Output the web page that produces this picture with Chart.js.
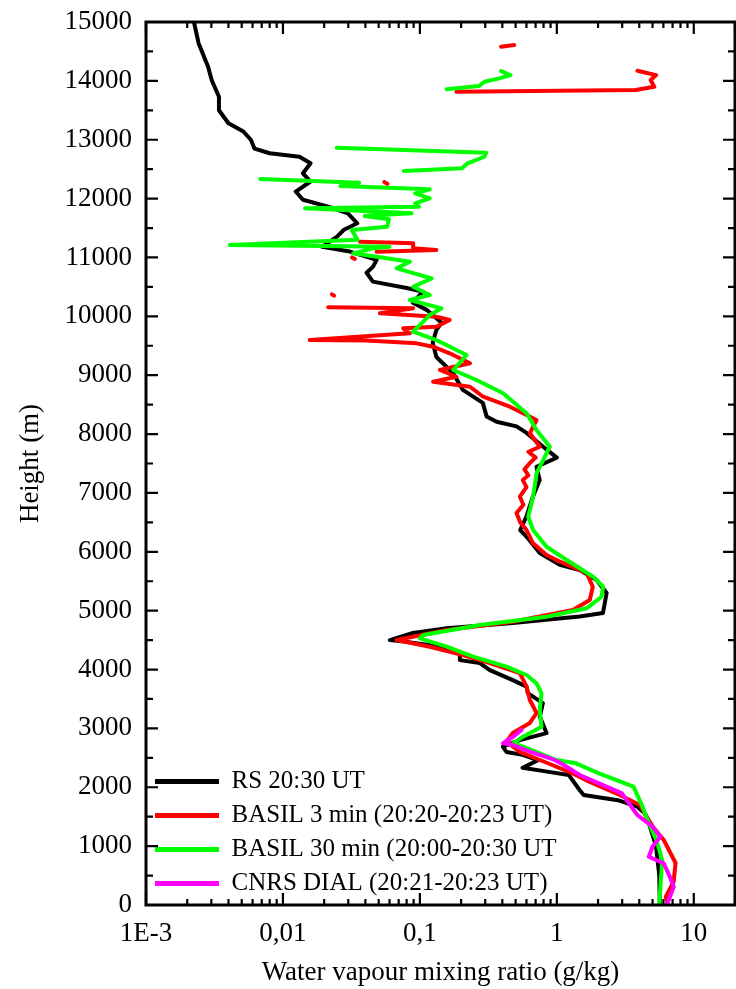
<!DOCTYPE html>
<html>
<head>
<meta charset="utf-8">
<script src="https://cdn.jsdelivr.net/npm/chart.js@4.4.1/dist/chart.umd.min.js"></script>
<style>
  html, body { margin: 0; padding: 0; background: #fff; }
  canvas { display: block; }
</style>
</head>
<body>
<canvas id="profileChart" width="736" height="989"></canvas>
<script>
// Water vapour profiles (height in m, mixing ratio in g/kg), null = gap

const rsHeight = [15000, 14640, 14240, 14010, 13730, 13500, 13280, 13140, 13000, 12850, 12770, 12710, 12600, 12430, 12290, 12120, 11980, 11860, 11750, 11580, 11470, 11350, 11180, 11100, 10960, 10840, 10740, 10590, 10480, 10420, 10230, 10110, 9890, 9770, 9550, 9310, 9040, 8750, 8530, 8300, 8210, 8130, 8020, 7790, 7600, 7445, 7220, 6940, 6600, 6370, 6260, 5980, 5780, 5690, 5520, 5300, 4960, 4900, 4790, 4700, 4620, 4500, 4470, 4390, 4280, 4160, 4110, 3990, 3820, 3710, 3600, 3430, 3200, 2920, 2800, 2690, 2600, 2550, 2460, 2330, 2270, 2210, 1950, 1870, 1780, 1670, 1560, 1390, 1000, 500, 0];
const rsValue = [0.00224, 0.00242, 0.00284, 0.00302, 0.00341, 0.00341, 0.0040, 0.00514, 0.00583, 0.0062, 0.0080, 0.0132, 0.0159, 0.0140, 0.0159, 0.0124, 0.0140, 0.0217, 0.0298, 0.0349, 0.0279, 0.0247, 0.0193, 0.0308, 0.0483, 0.0454, 0.0408, 0.0454, 0.080, 0.105, 0.0889, 0.112, 0.144, 0.132, 0.124, 0.132, 0.174, 0.206, 0.288, 0.307, 0.363, 0.508, 0.601, 0.79, 1.0, 0.71, 0.75, 0.67, 0.60, 0.54, 0.60, 0.75, 1.05, 1.47, 1.95, 2.31, 2.17, 1.47, 0.477, 0.157, 0.0889, 0.0604, 0.080, 0.140, 0.196, 0.196, 0.274, 0.324, 0.477, 0.601, 0.614, 0.791, 0.751, 0.841, 0.537, 0.403, 0.429, 0.562, 0.727, 0.562, 0.827, 1.22, 1.47, 1.57, 2.79, 3.87, 4.39, 4.7, 5.3, 5.6, 5.65];

const basil3Height = [14608, 14580, null, 14171, 14098, 14013, 13900, 13844, 13815, null, 12280, 12250, null, 11267, 11240, 11155, 11126, 11098, null, 11000, 10975, null, 10375, 10350, null, 10153, 10136, 10051, 9994, 9937, 9824, 9796, 9711, 9597, 9590, 9541, 9484, 9372, 9202, 9088, 8974, 8889, 8804, 8634, 8465, 8323, 8239, 8013, 7785, 7700, 7600, 7508, 7400, 7300, 7219, 7100, 6936, 6800, 6659, 6500, 6370, 6149, 5945, 5860, 5640, 5407, 5181, 5011, 4812, 4671, 4501, 4388, 4247, 4111, 3941, 3708, 3482, 3261, 3092, 2922, 2774, 2600, 2429, 2259, 2089, 1869, 1699, 1330, 1104, 713, 396, 141, 0];
const basil3Value = [0.488, 0.392, null, 3.88, 5.31, 4.84, 5.15, 3.76, 0.185, null, 0.055, 0.058, null, 0.0365, 0.0893, 0.0893, 0.132, 0.0483, null, 0.0320, 0.0335, null, 0.0228, 0.0236, null, 0.0214, 0.0893, 0.0511, 0.132, 0.165, 0.132, 0.0755, 0.0845, 0.0157, 0.0408, 0.0946, 0.125, 0.165, 0.232, 0.140, 0.185, 0.125, 0.232, 0.290, 0.454, 0.601, 0.711, 0.635, 0.751, 0.62, 0.70, 0.635, 0.58, 0.62, 0.565, 0.60, 0.537, 0.57, 0.508, 0.54, 0.601, 0.668, 0.841, 0.995, 1.65, 1.83, 1.74, 1.31, 0.477, 0.157, 0.0676, 0.118, 0.206, 0.324, 0.537, 0.601, 0.635, 0.711, 0.635, 0.477, 0.429, 0.537, 0.817, 1.24, 1.74, 2.88, 4.04, 5.02, 6.04, 7.36, 7.13, 6.25, 6.46];

const basil30Height = [14167, 14099, 14043, 13985, 13912, 13856, null, 12864, 12779, 12711, 12599, 12514, 12468, null, 12332, 12270, 12213, 12157, 12089, 12004, 11919, 11862, 11835, 11750, 11704, 11648, 11522, 11466, 11300, 11211, 11180, 11155, 11070, 10928, 10815, 10645, 10503, 10362, 10277, 10136, 10022, 9739, 9597, 9343, 9088, 8918, 8692, 8352, 8069, 7785, 7333, 6936, 6596, 6370, 6086, 5860, 5577, 5407, 5237, 5040, 4897, 4756, 4586, 4530, 4388, 4218, 4048, 3907, 3766, 3596, 3312, 3029, 2859, 2747, 2689, 2463, 2407, 2237, 2010, 1727, 1388, 1104, 764, 300, 0];
const basil30Value = [0.392, 0.459, 0.38, 0.296, 0.269, 0.157, null, 0.0247, 0.305, 0.296, 0.223, 0.203, 0.0764, null, 0.00682, 0.036, 0.0263, 0.118, 0.0924, 0.118, 0.0924, 0.0984, 0.0145, 0.0869, 0.0396, 0.0594, 0.0577, 0.0318, 0.035, 0.0041, 0.06, 0.0456, 0.0326, 0.0845, 0.0676, 0.122, 0.0893, 0.118, 0.0845, 0.144, 0.118, 0.0893, 0.132, 0.219, 0.175, 0.259, 0.405, 0.601, 0.711, 0.889, 0.711, 0.671, 0.618, 0.671, 0.841, 1.18, 1.84, 2.18, 2.12, 1.65, 0.841, 0.274, 0.106, 0.100, 0.157, 0.245, 0.429, 0.601, 0.711, 0.773, 0.751, 0.773, 0.567, 0.48, 0.567, 0.995, 1.38, 2.03, 3.63, 4.12, 4.70, 5.33, 5.88, 5.7, 5.6];

const dialHeight = [2973, 2859, 2747, 2718, 2604, 2475, 2407, 2208, 2067, 1897, 1529, 1330, 1160, 991, 820, 708, 481, 311, 100, 0];
const dialValue = [0.552, 0.48, 0.405, 0.48, 0.635, 0.94, 1.07, 1.47, 2.03, 2.99, 3.87, 5.0, 5.69, 5.0, 4.7, 6.04, 6.68, 7.13, 6.6, 6.3];

// axis ticks
const xMajorTicks = [0.001, 0.01, 0.1, 1, 10];
const xTickLabels = ['1E-3', '0,01', '0,1', '1', '10'];
const yMajorTicks = [0, 1000, 2000, 3000, 4000, 5000, 6000, 7000, 8000, 9000, 10000, 11000, 12000, 13000, 14000, 15000];
const yTickLabels = ['0', '1000', '2000', '3000', '4000', '5000', '6000', '7000', '8000', '9000', '10000', '11000', '12000', '13000', '14000', '15000'];

function toPoints(heights, values) {
  return heights.map((h, i) => ({ x: values[i], y: h }));
}

const xMinorTicks = [];
xMajorTicks.forEach(d => {
  for (let k = 2; k <= 9; k++) {
    if (d * k <= 20) xMinorTicks.push(d * k);
  }
});
const yMinorTicks = yMajorTicks.slice(0, -1).map(v => v + 500);

// frame and inward tick marks on all four sides
const frameTicks = {
  id: 'frameTicks',
  afterLayout(chart) {
    // legend sits inside the plot, flush with its bottom edge
    const lg = chart.legend;
    const dy = chart.chartArea.bottom - lg.bottom;
    lg.top += dy;
    lg.bottom += dy;
  },
  afterDraw(chart) {
    const { ctx, chartArea: a, scales: { x, y } } = chart;
    ctx.save();
    ctx.strokeStyle = '#000';
    ctx.lineWidth = 2.2;
    ctx.beginPath();
    const xt = xMajorTicks.map(v => [v, 12]).concat(xMinorTicks.map(v => [v, 6]));
    xt.forEach(([v, len]) => {
      const px = x.getPixelForValue(v);
      if (px < a.left || px > a.right) return;
      ctx.moveTo(px, a.bottom); ctx.lineTo(px, a.bottom - len);
      ctx.moveTo(px, a.top); ctx.lineTo(px, a.top + len);
    });
    const yt = yMajorTicks.map(v => [v, 12]).concat(yMinorTicks.map(v => [v, 7]));
    yt.forEach(([v, len]) => {
      const py = y.getPixelForValue(v);
      ctx.moveTo(a.left, py); ctx.lineTo(a.left + len, py);
      ctx.moveTo(a.right, py); ctx.lineTo(a.right - len, py);
    });
    ctx.stroke();
    ctx.lineWidth = 3;
    ctx.strokeRect(a.left, a.top, a.right - a.left, a.bottom - a.top);
    ctx.restore();
  }
};

Chart.defaults.font.family = "'Liberation Serif', 'Times New Roman', serif";
Chart.defaults.color = '#000';

const lineStyle = {
  borderWidth: 4,
  pointRadius: 0,
  tension: 0,
  spanGaps: false,
  borderJoinStyle: 'round',
  borderCapStyle: 'round',
  fill: false
};

new Chart(document.getElementById('profileChart'), {
  type: 'line',
  data: {
    datasets: [
      Object.assign({ label: 'RS 20:30 UT', data: toPoints(rsHeight, rsValue), borderColor: '#000000', backgroundColor: '#000000', order: 4 }, lineStyle),
      Object.assign({ label: 'BASIL 3 min (20:20-20:23 UT)', data: toPoints(basil3Height, basil3Value), borderColor: '#ff0000', backgroundColor: '#ff0000', order: 3 }, lineStyle),
      Object.assign({ label: 'BASIL 30 min (20:00-20:30 UT', data: toPoints(basil30Height, basil30Value), borderColor: '#00ff00', backgroundColor: '#00ff00', order: 2 }, lineStyle),
      Object.assign({ label: 'CNRS DIAL (20:21-20:23 UT)', data: toPoints(dialHeight, dialValue), borderColor: '#ff00ff', backgroundColor: '#ff00ff', order: 1 }, lineStyle)
    ]
  },
  options: {
    responsive: false,
    animation: false,
    layout: { padding: { top: 22, right: 1, bottom: 0, left: 0 } },
    plugins: {
      tooltip: { enabled: false },
      legend: {
        position: 'chartArea',
        align: 'end',
        labels: {
          usePointStyle: true,
          pointStyle: 'line',
          pointStyleWidth: 64,
          padding: 9,
          color: '#000',
          font: { size: 25 },
          sort: (a, b) => a.datasetIndex - b.datasetIndex,
          generateLabels(chart) {
            const items = Chart.defaults.plugins.legend.labels.generateLabels(chart);
            items.forEach(it => { it.lineWidth = 5; it.pointStyle = 'line'; });
            return items;
          }
        }
      }
    },
    scales: {
      x: {
        type: 'logarithmic',
        min: 0.001,
        max: 20,
        afterBuildTicks(scale) {
          scale.ticks = xMajorTicks.map(v => ({ value: v, major: true }));
        },
        afterFit(scale) { scale.height = 84; },
        grid: { display: false, drawTicks: false },
        border: { display: false },
        ticks: {
          autoSkip: false,
          maxRotation: 0,
          padding: 13,
          font: { size: 27 },
          callback: (value, index) => xTickLabels[index]
        },
        title: {
          display: true,
          text: 'Water vapour mixing ratio (g/kg)',
          font: { size: 27 },
          padding: { top: 0, bottom: 0 }
        }
      },
      y: {
        type: 'linear',
        min: 0,
        max: 15000,
        afterBuildTicks(scale) {
          scale.ticks = yMajorTicks.map(v => ({ value: v }));
        },
        afterFit(scale) {
          scale.width = 146;
          scale.paddingTop = 0;
          scale.paddingBottom = 0;
        },
        grid: { display: false, drawTicks: false },
        border: { display: false },
        ticks: {
          autoSkip: false,
          padding: 14,
          font: { size: 27 },
          callback: (value, index) => yTickLabels[index]
        },
        title: {
          display: true,
          text: 'Height (m)',
          font: { size: 27 },
          padding: { top: 15, bottom: 0 }
        }
      }
    }
  },
  plugins: [frameTicks]
});
</script>
</body>
</html>
